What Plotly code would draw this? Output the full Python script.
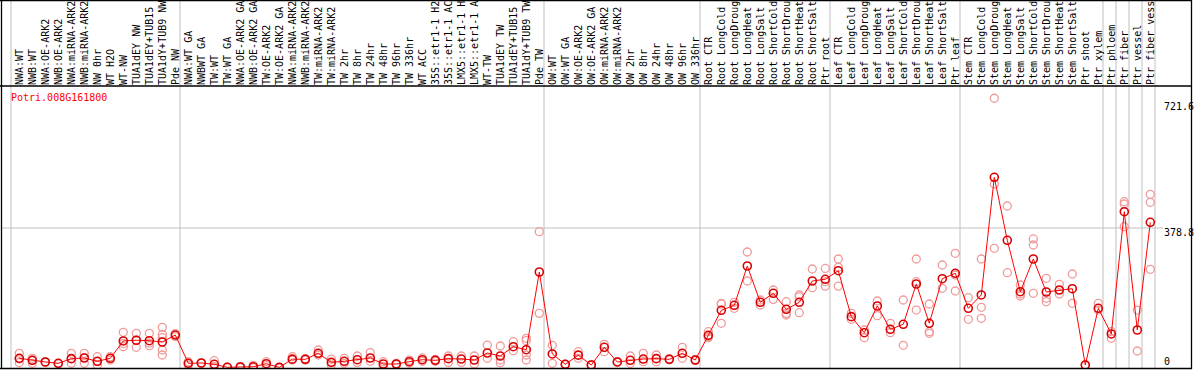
import plotly.graph_objects as go

W, H = 1194, 370

gene = "Potri.008G161800"

categories = [
    "NWA:WT", "NWB:WT", "NWA:OE-ARK2", "NWB:OE-ARK2", "NWA:miRNA-ARK2", "NWB:miRNA-ARK2",
    "NW 0hr", "WT H2O", "WT-NW", "TUA1dEY NW", "TUA1dEY+TUB15", "TUA1dY+TUB9 NW", "Pde NW",
    "NWA:WT GA", "NWBWT GA", "TW:WT", "TW:WT GA", "NWA:OE-ARK2 GA", "NWB:OE-ARK2 GA",
    "TW:OE-ARK2", "TW:OE-ARK2 GA", "NWA:miRNA-ARK2", "NWB:miRNA-ARK2", "TW:miRNA-ARK2",
    "TW:miRNA-ARK2", "TW 2hr", "TW 8hr", "TW 24hr", "TW 48hr", "TW 96hr", "TW 336hr",
    "WT ACC", "35S::etr1-1 H2", "35S::etr1-1 AC", "LMX5::etr1-1 H", "LMX5::etr1-1 A",
    "WT-TW", "TUA1dEY TW", "TUA1dEY+TUB15", "TUA1dY+TUB9 TW", "Pde TW",
    "OW:WT", "OW:WT GA", "OW:OE-ARK2", "OW:OE-ARK2 GA", "OW:miRNA-ARK2", "OW:miRNA-ARK2",
    "OW 2hr", "OW 8hr", "OW 24hr", "OW 48hr", "OW 96hr", "OW 336hr",
    "Root CTR", "Root LongCold", "Root LongDroug", "Root LongHeat", "Root LongSalt",
    "Root ShortCold", "Root ShortDrou", "Root ShortHeat", "Root ShortSalt", "Ptr root",
    "Leaf CTR", "Leaf LongCold", "Leaf LongDroug", "Leaf LongHeat", "Leaf LongSalt",
    "Leaf ShortCold", "Leaf ShortDrou", "Leaf ShortHeat", "Leaf ShortSalt", "Ptr leaf",
    "Stem CTR", "Stem LongCold", "Stem LongDroug", "Stem LongHeat", "Stem LongSalt",
    "Stem ShortCold", "Stem ShortDrou", "Stem ShortHeat", "Stem ShortSalt",
    "Ptr shoot", "Ptr xylem", "Ptr phloem", "Ptr fiber", "Ptr vessel", "Ptr fiber vess",
]

mean_values = [
    25, 19.5, 15, 11.4, 24, 25.8, 16.8, 25, 72, 74, 72.8, 69.2, 88.2,
    11.4, 12.2, 8.7, 0.5, 1.4, 2.2, 10.3, 0.3, 22.7, 22.2, 38.5, 14, 16.8, 21.2, 25.8,
    9.5, 9.5, 15.8, 21.2, 19.5, 24, 23, 20.4, 39.4, 31.2, 56.5, 48.3, 259.3,
    36.7, 8.7, 33.5, 6.8, 54.8, 15, 19.5, 23, 24, 22.2, 38.5, 20.4,
    87.4, 155.3, 168.9, 275.6, 177, 201.5, 158, 177, 234.9, 239.5,
    262.8, 138, 94.5, 167, 103.7, 117.3, 226.7, 120, 241.1, 255.8,
    160.7, 196.9, 516.4, 345.4, 205.8, 294.6, 205, 210.4, 214,
    6.8, 160.7, 91, 423, 101.8, 394.2,
]

replicate_values = [
    [38.5, 23, 13], [25, 19, 11.4], [15, 14], [11, 10], [38.5, 24, 11.4], [38.5, 27, 11.4],
    [29.4, 16, 6.8], [29.4, 25, 20.4], [95.6, 65, 56.5], [92.8, 74, 54.8], [92.8, 66, 59.2],
    [109, 90, 81, 47.5, 34], [92, 84],
    [15.8, 6.8], [12, 12], [18.5, 2], [1, 0], [3, 0], [6, 0], [15.8, 5], [0.5, 0],
    [29.4, 20.4], [24, 20], [47.5, 34], [23, 6.8], [25, 11.4], [31.2, 14], [40.3, 16.8],
    [15.8, 2.2], [11, 8], [20, 12], [26, 17], [22, 17], [31.2, 14], [31.2, 14], [31.2, 9.5],
    [61, 25], [58.4, 20.4, 13], [70, 45.6], [79.3, 72.8, 34, 20.4], [368.7, 147],
    [60.3, 11.4], [9, 8], [42.9, 25], [8, 5], [63, 42.9], [16, 14], [31.2, 11.4],
    [38.5, 15.8], [34, 15.8], [24, 21], [54.8, 25], [22, 19],
    [97.2, 83.7, 81], [174, 172, 120], [177, 160.7], [313.6, 234.9], [183.3, 169.7],
    [210.4, 185], [178.7, 147, 142.5], [196.9, 192, 148.8], [267.4, 216.7], [269, 233, 221],
    [294.6, 272, 221], [147, 130.9], [101.8, 81], [180.6, 140.6], [120, 94.5], [183.3, 60.3],
    [294.6, 233, 156], [172.4, 97.2, 92.9], [278.3, 215], [310, 251.2, 207.7],
    [189.5, 130.9], [294.6, 163.5, 133.6], [731, 498.2, 323.6], [438.5, 257.4],
    [224, 199.6, 194.1], [349, 332.6, 201.5], [242.2, 187.9, 178.7], [225.9, 199.6],
    [253.9, 174.3],
    [6.8], [174.3, 156], [97.2, 79.3], [450.2, 443.9, 382.3], [156, 44.8], [470.3, 448.6, 266.6],
]

group_bounds = [0, 13, 41, 53, 63, 73, 84, 85, 86, 87, 88]
y_tick_labels = ["721.6", "378.8", "0"]
y_ref_value = 378.8

# ---- geometry helpers (pixels -> paper) ----
def px(x):
    return x / W

def py(y):
    return (H - y) / H

xs = list(range(len(categories)))
rx, ry = [], []
for i, reps in enumerate(replicate_values):
    for v in reps:
        rx.append(i)
        ry.append(v)

fig = go.Figure()
fig.add_trace(go.Scatter(
    x=rx, y=ry, mode="markers",
    marker=dict(symbol="circle-open", size=8, color="#f09a9a", line=dict(width=1.3, color="#f09a9a")),
    hoverinfo="skip", showlegend=False,
))
fig.add_trace(go.Scatter(
    x=xs, y=mean_values, mode="lines+markers",
    line=dict(color="#ff0000", width=1),
    marker=dict(symbol="circle-open", size=8, color="#d80000", line=dict(width=1.6, color="#d80000")),
    showlegend=False,
))

x0_px, step_px = 19.3, 13.0
x_range = [(0 - x0_px) / step_px, (W - x0_px) / step_px]
zero_px, scale = 367.5, 0.3683
y_range = [(zero_px - 369) / scale, (zero_px - 86) / scale]

shapes = []
for k in group_bounds:
    shapes.append(dict(type="line", xref="x", yref="paper",
                       x0=k - 0.638, x1=k - 0.638, y0=py(369), y1=py(0),
                       line=dict(color="#c0c0c0", width=1), layer="below"))
shapes.append(dict(type="line", xref="paper", yref="y", x0=px(1.5), x1=px(1163),
                   y0=y_ref_value, y1=y_ref_value,
                   line=dict(color="#c0c0c0", width=1), layer="below"))
for (a, b, c, d) in [(0, 0.5, W - 2, 0.5), (1.5, 0, 1.5, 369), (W - 2.5, 0, W - 2.5, 369),
                     (0, 368.5, W - 2, 368.5), (0, 86, W - 2, 86)]:
    shapes.append(dict(type="line", xref="paper", yref="paper",
                       x0=px(a), y0=py(b), x1=px(c), y1=py(d),
                       line=dict(color="black", width=1.3)))

mono = "DejaVu Sans Mono"
annotations = [
    dict(text=gene, xref="paper", yref="paper", x=px(9), y=py(97), xanchor="left",
         yanchor="middle", showarrow=False, font=dict(family=mono, size=10, color="#ff0000")),
]
for lab, ypix in zip(y_tick_labels, [106.7, 232.7, 361.7]):
    annotations.append(dict(text=lab, xref="paper", yref="paper", x=px(1162), y=py(ypix),
                            xanchor="left", yanchor="middle", showarrow=False,
                            font=dict(family=mono, size=10, color="black")))

fig.update_layout(
    width=W, height=H,
    margin=dict(l=0, r=0, t=0, b=0),
    paper_bgcolor="white", plot_bgcolor="white",
    xaxis=dict(range=x_range, domain=[0, 1], side="top", tickmode="array",
               tickvals=xs, ticktext=categories, tickangle=-90, showgrid=False,
               zeroline=False, showline=False, ticks="",
               tickfont=dict(family=mono, size=10, color="black")),
    yaxis=dict(range=y_range, domain=[py(369), py(86)], showgrid=False, zeroline=False,
               showticklabels=False, showline=False),
    shapes=shapes, annotations=annotations,
    font=dict(family=mono),
)

fig.write_html("out.html", config={"displayModeBar": False},
               post_script="document.body.style.margin='0px';document.body.style.overflow='hidden';")
